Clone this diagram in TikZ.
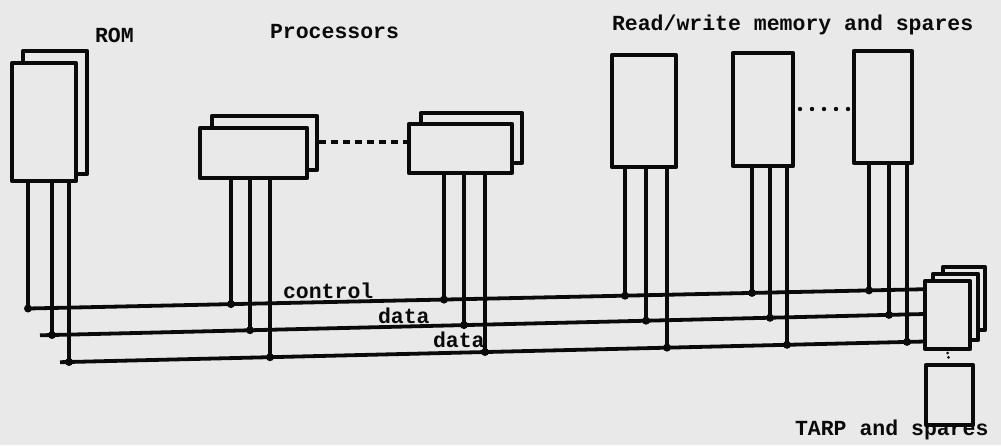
\documentclass[tikz,border=0pt]{standalone}
\usepackage{fontspec}
\newfontfamily\typew{Liberation Mono}
\definecolor{bg}{RGB}{233,233,233}
\definecolor{ink}{RGB}{10,10,10}
\begin{document}
\begin{tikzpicture}[x=1pt,y=-1pt,
  ln/.style={line width=4.2pt, line join=round, line cap=round, draw=ink},
  box/.style={ln, fill=bg, rectangle, inner sep=0pt, outer sep=0pt, anchor=north west},
  wire/.style={line width=3.8pt, draw=ink, line join=round},
  lbl/.style={font=\typew\bfseries\fontsize{21.5}{24}\selectfont, text=ink, inner sep=0pt, outer sep=0pt, anchor=base west}]
\fill[bg] (0,0) rectangle (1001,445);
\useasboundingbox (0,0) rectangle (1001,445);

% ROM stack
\node[box, minimum width=64pt, minimum height=123pt] (romb) at (23,51) {};
\node[box, minimum width=64pt, minimum height=118pt] (rom) at (12,63) {};
% Processor stacks
\node[box, minimum width=105pt, minimum height=54pt] (p1b) at (212,116) {};
\node[box, minimum width=107pt, minimum height=50pt] (p1) at (200,128) {};
\node[box, minimum width=101pt, minimum height=50pt] (p2b) at (421,113) {};
\node[box, minimum width=103pt, minimum height=49pt] (p2) at (409,124) {};
% Read/write memory
\node[box, minimum width=64pt, minimum height=112pt] (ram1) at (612,55) {};
\node[box, minimum width=60pt, minimum height=113pt] (ram2) at (733,53) {};
\node[box, minimum width=58pt, minimum height=112pt] (ram3) at (854,51) {};
% TARP stack
\node[box, minimum width=42pt, minimum height=63pt] (t3) at (943,267) {};
\node[box, minimum width=45pt, minimum height=66pt] (t2) at (933,274) {};
\node[box, minimum width=45pt, minimum height=68pt] (tarp) at (925,281) {};
\node[box, minimum width=47pt, minimum height=60pt] (tarp2) at (926,365) {};

% dashed / dotted continuation marks
\coordinate (h142) at (0,142);
\coordinate (h109) at (0,109);
\draw[line width=4pt, draw=ink, dash pattern=on 7pt off 5pt] ([xshift=2pt]p1b.east |- h142) -- ([xshift=-2pt]p2.west |- h142);
\draw[line width=4.4pt, draw=ink, line cap=round, dash pattern=on 0pt off 12pt]
  ([xshift=7pt]ram2.east |- h109) -- ([xshift=-6pt]ram3.west |- h109);
\draw[line width=3pt, draw=ink, line cap=round, dash pattern=on 0pt off 4.5pt]
  ([yshift=-4pt]tarp.south) -- ([yshift=4pt]tarp2.north);

% buses
\coordinate (cS) at (28,308.5);  \coordinate (cE) at (925,289.2);
\coordinate (d1S) at (40,335.3); \coordinate (d1E) at (925,314.0);
\coordinate (d2S) at (60,362.2); \coordinate (d2E) at (925,341.5);
\draw[wire] (cS) -- (tarp.west |- cE);
\draw[wire] (d1S) -- (tarp.west |- d1E);
\draw[wire] (d2S) -- (tarp.west |- d2E);

% unit wires with junction dots
\foreach \n/\x/\y in {rom/28/308.5, rom/52/335, rom/69/362,
  p1/231/304.1, p1/250/330.2, p1/270/357.2,
  p2/444/299.6, p2/464/325.1, p2/485/352.0,
  ram1/625/295.7, ram1/646/320.7, ram1/667/347.6,
  ram2/752/292.9, ram2/770/317.8, ram2/787/344.8,
  ram3/869/290.4, ram3/889/314.9, ram3/907/341.9}
{
  \coordinate (j) at (\x,\y);
  \draw[wire] (\n.south -| j) -- (j);
  \fill[ink] (j) circle (4pt);
}

% labels
\node[lbl] (lrom) at (95,42) {ROM};
\node[lbl] (lproc) at (270,38) {Processors};
\node[lbl] (lram) at (612,30) {Read/write memory and spares};
\node[lbl] (lctl) at (283,298) {control};
\node[lbl] (ld1) at (378,323) {data};
\node[lbl] (ld2) at (433,347) {data};
\node[lbl] (ltarp) at (795,435) {TARP and spares};
\end{tikzpicture}
\end{document}
